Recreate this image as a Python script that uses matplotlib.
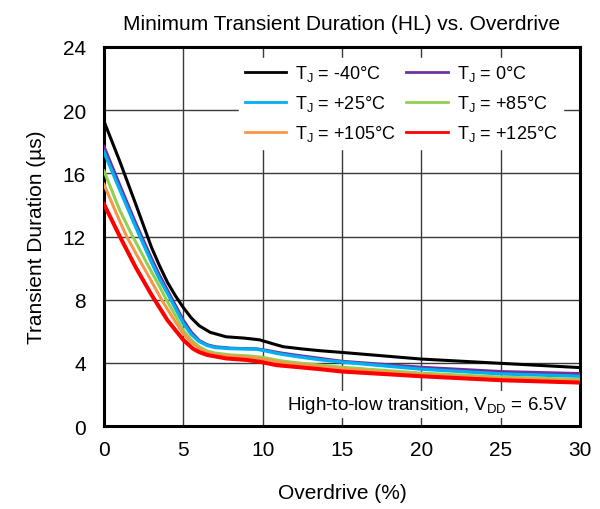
import matplotlib
matplotlib.use('Agg')
import matplotlib.pyplot as plt
from matplotlib.lines import Line2D

plt.rcParams['font.family'] = ['Liberation Sans', 'DejaVu Sans']
plt.rcParams['mathtext.fontset'] = 'custom'
plt.rcParams['mathtext.rm'] = 'Liberation Sans'
plt.rcParams['mathtext.it'] = 'Liberation Sans'

# values (overdrive %, duration us)
x_m40 = [0, 1, 2, 3, 3.5, 4, 4.5, 5, 5.5, 6, 6.7, 7.7, 8.8, 9.8, 10.7, 11.3, 12.5, 13.6, 15, 17.5, 20, 25, 30]
y_m40 = [19.3, 16.75, 14.05, 11.3, 10.15, 9.1, 8.25, 7.5, 6.85, 6.35, 5.93, 5.65, 5.57, 5.46, 5.19, 5.02, 4.88, 4.77, 4.66, 4.45, 4.24, 3.97, 3.7]

x_0 = [0, 1, 2, 3, 3.5, 4, 4.5, 5, 5.5, 6, 6.5, 7, 8, 9, 9.6, 10.2, 11, 12, 15, 20, 25, 30]
y_0 = [17.7, 15.25, 12.85, 10.6, 9.55, 8.6, 7.65, 6.7, 5.95, 5.42, 5.15, 5.02, 4.93, 4.9, 4.89, 4.8, 4.65, 4.5, 4.1, 3.72, 3.45, 3.32]

x_25 = [0, 1, 2, 3, 3.5, 4, 4.5, 5, 5.5, 6, 6.5, 7, 8, 9, 9.6, 10.2, 11, 12, 13.6, 15, 20, 25, 30]
y_25 = [17.35, 14.95, 12.6, 10.35, 9.3, 8.4, 7.45, 6.5, 5.8, 5.35, 5.1, 4.97, 4.9, 4.88, 4.87, 4.75, 4.58, 4.42, 4.2, 4.05, 3.6, 3.3, 3.15]

x_85 = [0, 1, 1.81, 2, 3, 3.5, 3.9, 4.5, 5, 5.5, 6, 6.5, 7, 8, 9, 10, 11, 12, 15, 20, 25, 30]
y_85 = [16.15, 13.65, 12.0, 11.65, 9.75, 8.85, 8.05, 7.0, 6.05, 5.45, 5.02, 4.75, 4.62, 4.5, 4.45, 4.35, 4.15, 4.02, 3.72, 3.35, 3.1, 2.95]

x_105 = [0, 1, 1.43, 2, 3, 3.63, 4, 4.5, 5, 5.5, 6, 6.5, 7, 8, 9, 10, 11, 12, 15, 20, 25, 30]
y_105 = [15.3, 12.95, 12.0, 10.95, 9.15, 8.0, 7.4, 6.6, 5.85, 5.3, 4.92, 4.65, 4.52, 4.42, 4.36, 4.25, 4.05, 3.92, 3.62, 3.25, 3.0, 2.85]

x_125 = [0, 1, 2, 3, 3.5, 4, 4.4, 5, 5.6, 6, 6.5, 7.7, 9, 9.8, 10.9, 12, 13.6, 15, 20, 25, 30]
y_125 = [14.05, 12.0, 10.05, 8.3, 7.5, 6.7, 6.2, 5.45, 4.9, 4.68, 4.5, 4.28, 4.18, 4.07, 3.85, 3.75, 3.6, 3.45, 3.15, 2.9, 2.75]

labels = ['-40', '0', '+25', '+85', '+105', '+125']
colors = ['#000000', '#7030A0', '#00B0F0', '#92D050', '#F79646', '#FF0000']
widths = [2.2, 2.2, 2.4, 2.2, 2.2, 2.9]
series = [(x_m40, y_m40), (x_0, y_0), (x_25, y_25),
          (x_85, y_85), (x_105, y_105), (x_125, y_125)]

fig = plt.figure(figsize=(6.0, 5.1), dpi=100)
ax = fig.add_axes([0.1733, 0.1627, 0.7934, 0.7432])

for (xs, ys), c, lw in zip(series, colors, widths):
    ax.plot(xs, ys, color=c, lw=lw, solid_joinstyle='round', zorder=3)

ax.set_xlim(0, 30)
ax.set_ylim(0, 24)
ax.set_xticks(range(0, 31, 5))
ax.set_yticks(range(0, 25, 4))
ax.grid(True, color='#3a3a3a', lw=1.0)
ax.set_axisbelow(True)
ax.tick_params(length=0, labelsize=15)
ax.tick_params(axis='x', pad=10)
ax.tick_params(axis='y', pad=13)
for sp in ax.spines.values():
    sp.set_linewidth(2.2)

ax.set_title('Minimum Transient Duration (HL) vs. Overdrive', fontsize=15, pad=13)
ax.set_xlabel('Overdrive (%)', fontsize=15, labelpad=17)
ax.set_ylabel('Transient Duration (µs)', fontsize=15, labelpad=12)

handles = [Line2D([], [], color=c, lw=2) for c in colors]
names = ['T$_\\mathrm{J}$ = %s°C' % t for t in labels]
order = [0, 2, 4, 1, 3, 5]
leg = ax.legend([handles[i] for i in order], [names[i] for i in order],
                ncol=2, loc='upper right', bbox_to_anchor=(0.964, 0.971),
                borderaxespad=0, fontsize=13, frameon=True, fancybox=False,
                framealpha=1, edgecolor='white', handlelength=2.3,
                handletextpad=0.5, columnspacing=0.6, labelspacing=0.55,
                borderpad=0.3)
leg.set_zorder(5)

ax.text(0.973, 0.045, 'High-to-low transition, V$_\\mathrm{DD}$ = 6.5V',
        transform=ax.transAxes, ha='right', va='baseline', fontsize=13.5,
        bbox=dict(facecolor='white', edgecolor='none', pad=2), zorder=5)

fig.savefig('out.png', dpi=100)
